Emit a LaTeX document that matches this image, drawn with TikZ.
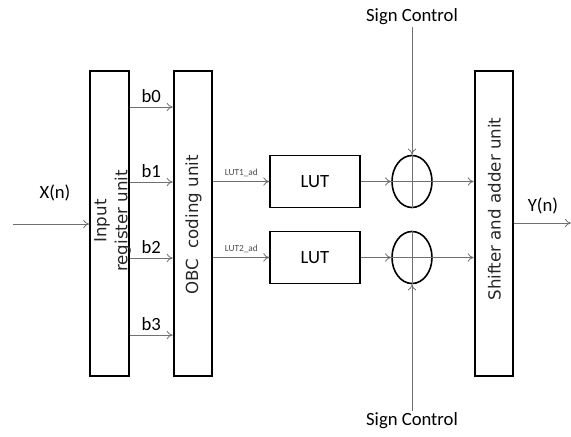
\documentclass[tikz,border=0pt]{standalone}
\usepackage{fontspec}
\setmainfont{Carlito}
\newfontfamily\boxfont{DejaVu Sans}
\usepackage{tikz}
\usetikzlibrary{arrows.meta, positioning, calc, shapes.geometric}
\definecolor{wireGray}{HTML}{707070}
\tikzset{
    unitbox/.style={rectangle, draw=black, line width=1.4pt, fill=white, align=center, font=\fontsize{14}{16}\selectfont},
    tallbox/.style={unitbox, minimum width=29pt, minimum height=229pt},
    lutbox/.style={unitbox, minimum width=67pt, minimum height=39pt},
    summer/.style={ellipse, draw=black, line width=1.2pt, minimum width=30pt, minimum height=39pt, inner sep=0pt},
    lbl/.style={font=\fontsize{14}{16}\selectfont, inner sep=1pt},
    vlbl/.style={rotate=90, align=center, inner sep=0pt, text=black!85, font=\boxfont\fontsize{12.5}{15.75}\selectfont},
    smalllbl/.style={font=\fontsize{7}{8}\selectfont, text=black!70, inner sep=1pt},
    arrow/.style={-{To[length=1.6mm, width=2.2mm]}, line width=0.6pt, draw=wireGray}
}
\begin{document}
\begin{tikzpicture}[x=0.75pt, y=-0.75pt]
    \useasboundingbox (0,0) rectangle (571,436);
    % the three tall units
    \node[tallbox] (inreg) at (109.5,223.5) {};
    \node[vlbl] at (112.5,221) {Input\\register unit};
    \node[tallbox] (obc) at (193,223.5) {};
    \node[vlbl] at (193.5,225) {OBC~~coding unit};
    \node[tallbox] (shift) at (494,223.5) {};
    \node[vlbl] at (494.5,209) {Shifter and adder unit};
    % look-up tables and sign blocks
    \node[lutbox] (lutA) at (315,181.5) {LUT};
    \node[lutbox] (lutB) at (315,257.5) {LUT};
    \node[summer] (sumA) at (412,181.5) {};
    \node[summer] (sumB) at (412,257.5) {};
    \foreach \s in {sumA,sumB}{
        \draw[line width=0.5pt, draw=wireGray] (\s.north) -- (\s.south);
        \draw[line width=0.5pt, draw=wireGray] (\s.west) -- (\s.east);
    }
    \node[lbl] (scTop) at (412,17) {Sign Control};
    \node[lbl] (scBot) at (412,421) {Sign Control};
    % input and output
    \node[lbl] (xin) at (55,193) {X(n)};
    \node[lbl] (yout) at (543,206) {Y(n)};
    \coordinate (xsrc) at (13,224);
    \coordinate (ydst) at (571,223);
    \draw[arrow] (xsrc) -- (inreg.west |- xsrc);
    \draw[arrow] (shift.east |- ydst) -- (ydst);
    % bit lines
    \foreach \y/\b in {107/b0, 182/b1, 258/b2, 335/b3}{
        \draw[arrow] (inreg.east |- 0,\y) -- node[lbl, above=2pt] {\b} (obc.west |- 0,\y);
    }
    \draw[arrow] (obc.east |- lutA.west) -- node[smalllbl, above=2pt] {LUT1\_ad} (lutA.west);
    \draw[arrow] (obc.east |- lutB.west) -- node[smalllbl, above=2pt] {LUT2\_ad} (lutB.west);
    \draw[arrow] (lutA) -- (sumA);
    \draw[arrow] (lutB) -- (sumB);
    \draw[arrow] (sumA.east) -- (shift.west |- sumA.east);
    \draw[arrow] (sumB.east) -- (shift.west |- sumB.east);
    \draw[arrow] (scTop) -- (sumA);
    \draw[arrow] (scBot) -- (sumB);
\end{tikzpicture}
\end{document}
